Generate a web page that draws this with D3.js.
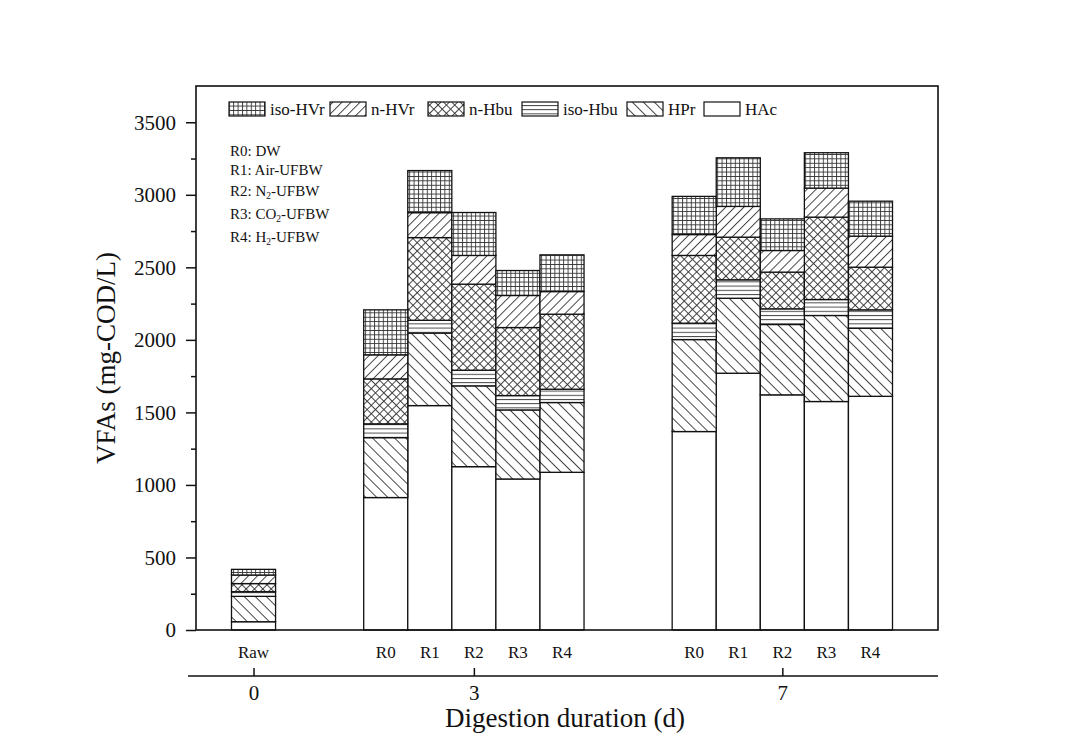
<!DOCTYPE html>
<html>
<head>
<meta charset="utf-8">
<script src="https://cdn.jsdelivr.net/npm/d3@7"></script>
<style>
body { margin: 0; background: #fff; }
text { font-family: "Liberation Serif", "Times New Roman", serif; fill: #111; }
</style>
</head>
<body>
<div class="chart"></div>
<script>
// Data (mg-COD/L)
var bars   = ["Raw", "3-R0", "3-R1", "3-R2", "3-R3", "3-R4", "7-R0", "7-R1", "7-R2", "7-R3", "7-R4"];
var labels = ["Raw", "R0", "R1", "R2", "R3", "R4", "R0", "R1", "R2", "R3", "R4"];
var days = ["0", "3", "7"];
var dayBars = ["Raw", "3-R2", "7-R2"];

var HAc    = [57, 913, 1547, 1126, 1041, 1087, 1368, 1770, 1621, 1575, 1611];
var HPr    = [175, 413, 500, 557, 476, 481, 634, 517, 485, 593, 469];
var isoHbu = [32, 95, 88, 108, 99, 92, 113, 127, 108, 110, 127];
var nHbu   = [56, 310, 570, 593, 469, 517, 467, 294, 253, 568, 294];
var nHVr   = [59, 166, 172, 198, 221, 156, 144, 212, 149, 200, 214];
var isoHVr = [39, 310, 290, 296, 172, 253, 263, 335, 218, 244, 241];

var keys = ["HAc", "HPr", "iso-Hbu", "n-Hbu", "n-HVr", "iso-HVr"];
var legendKeys = ["iso-HVr", "n-HVr", "n-Hbu", "iso-Hbu", "HPr", "HAc"];
var yTicks = [0, 500, 1000, 1500, 2000, 2500, 3000, 3500];

var notes = [["R0: DW"], ["R1: Air-UFBW"], ["R2: N", "2", "-UFBW"], ["R3: CO", "2", "-UFBW"], ["R4: H", "2", "-UFBW"]];

// Configuration
var width = 1078, height = 751;
var frame = {left: 196, right: 938, top: 86, bottom: 630};

var table = bars.map(function(b, i) {
    return {bar: b, "HAc": HAc[i], "HPr": HPr[i], "iso-Hbu": isoHbu[i],
            "n-Hbu": nHbu[i], "n-HVr": nHVr[i], "iso-HVr": isoHVr[i]};
});

// slot list with empty gaps between the day groups
var slots = ["Raw", "gap1", "gap2"].concat(bars.slice(1, 6), ["gap3", "gap4"], bars.slice(6));

var x = d3.scaleBand().domain(slots).range([231.5, 892.5]).padding(0);
var y = d3.scaleLinear().domain([0, 3750]).range([frame.bottom, frame.top]);

var svg = d3.select(".chart").append("svg")
    .attr("width", width)
    .attr("height", height);

var defs = svg.append("defs");

// hatch patterns
function linePattern(id, size, angle, d) {
    var p = defs.append("pattern")
        .attr("id", id)
        .attr("patternUnits", "userSpaceOnUse")
        .attr("width", size)
        .attr("height", size);
    if (angle) p.attr("patternTransform", "rotate(" + angle + ")");
    p.append("rect").attr("width", size).attr("height", size).attr("fill", "#fff");
    p.append("path").attr("d", d).attr("stroke", "#333").attr("stroke-width", 0.9).attr("fill", "none");
}
linePattern("p-isoHVr", 4.4, 0, "M0,0.5H4.4M0.5,0V4.4");
linePattern("p-nHVr", 6.4, 45, "M0.5,0V6.4");
linePattern("p-nHbu", 5.9, 45, "M0.5,0V5.9M0,0.5H5.9");
linePattern("p-isoHbu", 4.2, 0, "M0,0.5H4.2");
linePattern("p-HPr", 7.8, -45, "M0.5,0V7.8");

var fills = {"HAc": "#fff", "HPr": "url(#p-HPr)", "iso-Hbu": "url(#p-isoHbu)",
             "n-Hbu": "url(#p-nHbu)", "n-HVr": "url(#p-nHVr)", "iso-HVr": "url(#p-isoHVr)"};

var stack = d3.stack().keys(keys);
var series = stack(table);

// bars
var layer = svg.selectAll("g.layer")
    .data(series)
    .enter().append("g")
    .attr("class", "layer")
    .attr("fill", function(d) { return fills[d.key]; });

layer.selectAll("rect")
    .data(function(d) { return d; })
    .enter().append("rect")
    .attr("x", function(d) { return x(d.data.bar); })
    .attr("width", x.bandwidth())
    .attr("y", function(d) { return y(d[1]); })
    .attr("height", function(d) { return y(d[0]) - y(d[1]); })
    .attr("stroke", "#111")
    .attr("stroke-width", 1.3);

// frame
svg.append("rect")
    .attr("x", frame.left).attr("y", frame.top)
    .attr("width", frame.right - frame.left)
    .attr("height", frame.bottom - frame.top)
    .attr("fill", "none").attr("stroke", "#111").attr("stroke-width", 1.6);

// y axis
var yAxis = svg.append("g")
    .attr("transform", "translate(" + frame.left + ",0)")
    .call(d3.axisLeft(y).tickValues(yTicks).tickSize(10).tickPadding(10).tickFormat(d3.format("d")));
yAxis.select(".domain").remove();
yAxis.selectAll("line").attr("stroke", "#111").attr("stroke-width", 1.5);
yAxis.selectAll("text").attr("font-size", 21).attr("font-family", null);

var minor = yTicks.slice(0, -1).map(function(v) { return v + 250; });
svg.append("g")
    .attr("transform", "translate(" + frame.left + ",0)")
    .call(d3.axisLeft(y).tickValues(minor).tickSize(5).tickFormat(""))
    .call(function(g) { g.select(".domain").remove(); })
    .selectAll("line").attr("stroke", "#111").attr("stroke-width", 1.5);

svg.append("text")
    .attr("transform", "translate(115," + ((frame.top + frame.bottom) / 2) + ") rotate(-90)")
    .attr("text-anchor", "middle")
    .attr("font-size", 27)
    .text("VFAs (mg-COD/L)");

// category labels under each bar
svg.selectAll("text.cat")
    .data(bars)
    .enter().append("text")
    .attr("class", "cat")
    .attr("x", function(d) { return x(d) + x.bandwidth() / 2; })
    .attr("y", 658)
    .attr("text-anchor", "middle")
    .attr("font-size", 17)
    .text(function(d, i) { return labels[i]; });

// day axis
var dayScale = d3.scaleOrdinal().domain(days)
    .range(dayBars.map(function(b) { return x(b) + x.bandwidth() / 2; }));
svg.append("line")
    .attr("x1", 188).attr("x2", frame.right)
    .attr("y1", 676).attr("y2", 676)
    .attr("stroke", "#111").attr("stroke-width", 1.6);
var dAxis = svg.append("g")
    .attr("transform", "translate(0,676)")
    .call(d3.axisBottom(dayScale).tickSize(-8).tickPadding(9));
dAxis.select(".domain").remove();
dAxis.selectAll("line").attr("stroke", "#111").attr("stroke-width", 1.5);
dAxis.selectAll("text").attr("font-size", 21).attr("font-family", null);

svg.append("text")
    .attr("x", 565).attr("y", 727)
    .attr("text-anchor", "middle")
    .attr("font-size", 27)
    .text("Digestion duration (d)");

// legend
var legendX = [229, 330, 428, 522, 627, 704];
legendKeys.forEach(function(k, i) {
    svg.append("rect")
        .attr("x", legendX[i]).attr("y", 102)
        .attr("width", 36).attr("height", 14)
        .attr("fill", fills[k]).attr("stroke", "#111").attr("stroke-width", 1.2);
    svg.append("text")
        .attr("x", legendX[i] + 41).attr("y", 115)
        .attr("font-size", 17)
        .text(k);
});

// reactor notes
svg.selectAll("text.note")
    .data(notes)
    .enter().append("text")
    .attr("class", "note")
    .attr("x", 230)
    .attr("y", function(d, i) { return [156, 175, 196, 219, 242][i]; })
    .attr("font-size", 15)
    .each(function(d) {
        var t = d3.select(this);
        t.append("tspan").text(d[0]);
        if (d.length > 1) {
            t.append("tspan").attr("font-size", 9.5).attr("dy", 3).text(d[1]);
            t.append("tspan").attr("dy", -3).text(d[2]);
        }
    });
</script>
</body>
</html>
